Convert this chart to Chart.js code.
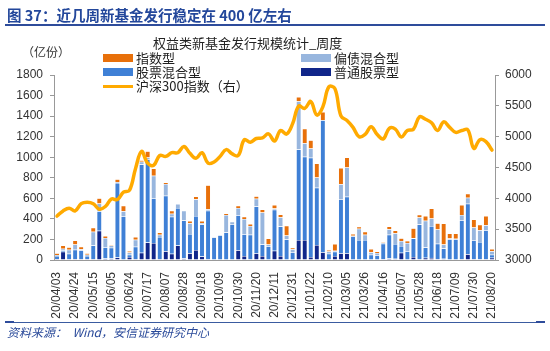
<!DOCTYPE html>
<html>
<head>
<meta charset="utf-8">
<script src="https://cdn.jsdelivr.net/npm/chart.js@4.4.0/dist/chart.umd.min.js"></script>
<style>
  html, body { margin: 0; padding: 0; background: #fff; }
  #wrap { position: relative; width: 550px; height: 351px; overflow: hidden;
          font-family: "Noto Sans CJK SC", "Liberation Sans", sans-serif; }
  #chart { position: absolute; left: 0; top: 0; }
  .abs { position: absolute; white-space: nowrap; line-height: 1; }
  .head { left: 7px; top: 8px; font-size: 14.5px; font-weight: bold; color: #23479b; }
  .rule { left: 5px; width: 540px; background: #2e4c9b; }
  .title { left: 153px; top: 36px; font-size: 13px; color: #222; }
  .unit { left: 22px; top: 46px; font-size: 12px; color: #333; }
  .leg { font-size: 13px; color: #222; height: 14px; }
  .sw { display: inline-block; width: 30px; height: 8px; vertical-align: middle; margin-right: 3px; margin-top: -2px; }
  .ln { display: inline-block; width: 30px; height: 3px; vertical-align: middle; margin-right: 3px; margin-top: -2px; background: #ffaa00; }
  .src { left: 7px; top: 326px; font-size: 12px; font-style: italic; color: #2a4a9a; }
</style>
</head>
<body>
<div id="wrap">
  <canvas id="chart" width="550" height="351"></canvas>
  <div class="abs head">图 37：近几周新基金发行稳定在 400 亿左右</div>
  <div class="abs rule" style="top:24px;height:1.5px;"></div>
  <div class="abs title">权益类新基金发行规模统计_周度</div>
  <div class="abs unit">（亿份）</div>
  <div class="abs leg" style="left:103px;top:51px;"><span class="sw" style="background:#e8700a"></span>指数型</div>
  <div class="abs leg" style="left:301px;top:51px;"><span class="sw" style="background:#98b6de"></span>偏债混合型</div>
  <div class="abs leg" style="left:103px;top:65px;"><span class="sw" style="background:#3f80d6"></span>股票混合型</div>
  <div class="abs leg" style="left:301px;top:65px;"><span class="sw" style="background:#10268a"></span>普通股票型</div>
  <div class="abs leg" style="left:103px;top:79px;"><span class="ln"></span>沪深300指数（右）</div>
  <div class="abs rule" style="top:322px;height:1px;background:#3a5ba0;"></div>
  <div class="abs" style="left:5px;top:321px;width:9px;height:2px;background:#2e4c9b;"></div>
  <div class="abs" style="left:536px;top:321px;width:9px;height:2px;background:#2e4c9b;"></div>
  <div class="abs src">资料来源：&nbsp;&nbsp;Wind，安信证券研究中心</div>
</div>
<script>
// weekly issue dates
const weeks = [
  '20/04/03','20/04/10','20/04/17','20/04/24','20/04/30','20/05/08','20/05/15','20/05/22','20/05/29','20/06/05',
  '20/06/12','20/06/19','20/06/24','20/07/03','20/07/10','20/07/17','20/07/24','20/07/31','20/08/07','20/08/14',
  '20/08/21','20/08/28','20/09/04','20/09/11','20/09/18','20/09/25','20/09/30','20/10/09','20/10/16','20/10/23',
  '20/10/30','20/11/06','20/11/13','20/11/20','20/11/27','20/12/04','20/12/11','20/12/18','20/12/25','20/12/31',
  '21/01/08','21/01/15','21/01/22','21/01/29','21/02/05','21/02/10','21/02/19','21/02/26','21/03/05','21/03/12',
  '21/03/19','21/03/26','21/04/02','21/04/09','21/04/16','21/04/23','21/04/30','21/05/07','21/05/14','21/05/21',
  '21/05/28','21/06/04','21/06/11','21/06/18','21/06/25','21/07/02','21/07/09','21/07/16','21/07/23','21/07/30',
  '21/08/06','21/08/13','21/08/20'
];

// 普通股票型 (亿份)
const commonStock = [
  10, 80, 10, 10, 10, 10, 10, 285, 15, 15,
  25, 5, 30, 10, 70, 170, 165, 10, 85, 60,
  140, 15, 65, 97, 35, 10, 5, 5, 5, 5,
  95, 40, 10, 65, 40, 5, 90, 40, 5, 5,
  195, 195, 30, 145, 75, 10, 40, 65, 65, 5,
  5, 5, 5, 5, 8, 15, 11, 70, 6, 30,
  10, 22, 20, 9, 11, 5, 5, 10, 57, 10,
  8, 10, 22
];
// 股票混合型
const stockMixed = [
  28, 15, 50, 90, 85, 30, 130, 190, 110, 105,
  725, 420, 20, 120, 860, 810, 435, 215, 540, 360,
  365, 370, 188, 330, 310, 470, 215, 235, 263, 342,
  340, 210, 235, 455, 110, 130, 400, 285, 195, 70,
  880, 810, 965, 557, 1285, 52, 40, 525, 550, 225,
  190, 190, 45, 42, 150, 230, 145, 66, 80, 180,
  336, 100, 310, 150, 100, 198, 196, 376, 490, 182,
  168, 280, 30
];
// 偏债混合型
const bondMixed = [
  10, 15, 40, 50, 10, 12, 134, 75, 88, 20,
  6, 50, 22, 68, 25, 18, 220, 20, 115, 30,
  39, 94, 105, 165, 15, 13, 6, 3, 170, 25,
  72, 150, 85, 75, 312, 15, 12, 90, 38, 30,
  470, 130, 90, 100, 0, 20, 10, 146, 285, 5,
  110, 50, 26, 20, 12, 55, 105, 50, 80, 5,
  68, 260, 75, 137, 39, 5, 5, 52, 59, 124,
  114, 49, 33
];
// 指数型
const indexFund = [
  17, 30, 23, 40, 25, 13, 40, 50, 20, 12,
  30, 52, 15, 25, 15, 60, 70, 23, 14, 29,
  0, 0, 22, 26, 20, 235, 0, 0, 15, 0,
  20, 20, 20, 26, 30, 60, 32, 28, 95, 15,
  41, 143, 80, 136, 80, 15, 65, 160, 97, 17,
  19, 30, 32, 15, 10, 26, 26, 26, 20, 95,
  26, 45, 95, 62, 205, 50, 52, 98, 39, 78,
  52, 88, 23
];
// 沪深300指数 weekly close (right axis)
const csi300 = [
  3713, 3796, 3839, 3797, 3913, 3937, 3913, 3824, 3867, 3990,
  3980, 4100, 4130, 4485, 4760, 4570, 4535, 4695, 4680, 4740,
  4740, 4840, 4730, 4650, 4740, 4570, 4590, 4680, 4790, 4720,
  4695, 4950, 4910, 4970, 4980, 5046, 4930, 5100, 5042, 5211,
  5496, 5458, 5570, 5351, 5484, 5808, 5778, 5336, 5262, 5150,
  5000, 5037, 5161, 5035, 4965, 5135, 5123, 4996, 5100, 5120,
  5321, 5282, 5225, 5100, 5240, 5150, 5070, 5100, 5110, 4811,
  4950, 4920, 4782
];

const leftRange = [0, 1800, 200];
const rightRange = [3000, 6000, 500];

const tickFont = { family: 'Liberation Sans, Arial, sans-serif', size: 12 };
const tickColor = '#333';
const axisColor = '#999';

function barSet(label, data, color) {
  return {
    type: 'bar', label: label, data: data, backgroundColor: color,
    borderColor: 'rgba(255,255,255,0.7)', borderWidth: 0.5,
    yAxisID: 'y', order: 1, categoryPercentage: 0.82, barPercentage: 1
  };
}

new Chart(document.getElementById('chart').getContext('2d'), {
  data: {
    labels: weeks,
    datasets: [
      {
        type: 'line', label: '沪深300指数（右）', data: csi300, yAxisID: 'y1', order: 0,
        borderColor: '#ffaa00', borderWidth: 3.5, pointRadius: 0, tension: 0.4,
        borderCapStyle: 'round', borderJoinStyle: 'round', fill: false
      },
      barSet('普通股票型', commonStock, '#10268a'),
      barSet('股票混合型', stockMixed, '#3f80d6'),
      barSet('偏债混合型', bondMixed, '#98b6de'),
      barSet('指数型', indexFund, '#e8700a')
    ]
  },
  options: {
    responsive: false,
    animation: false,
    devicePixelRatio: 1,
    layout: { padding: { top: 75, left: 0, right: 0, bottom: 0 } },
    plugins: { legend: { display: false }, tooltip: { enabled: false } },
    scales: {
      x: {
        stacked: true,
        grid: { display: false },
        border: { display: true, color: axisColor },
        ticks: {
          autoSkip: false, minRotation: 90, maxRotation: 90, padding: 4,
          font: tickFont, color: tickColor,
          callback: function (v, i) { return i % 3 === 0 ? weeks[i] : ''; }
        },
        afterFit: function (s) { s.height = 91; }
      },
      y: {
        stacked: true, position: 'left',
        min: leftRange[0], max: leftRange[1],
        grid: { display: true, drawOnChartArea: false, tickLength: 4, color: axisColor },
        border: { display: true, color: axisColor },
        ticks: { stepSize: leftRange[2], padding: 7, font: tickFont, color: tickColor,
                 callback: function (v) { return String(v); } },
        afterFit: function (s) { s.width = 54; }
      },
      y1: {
        stacked: false, position: 'right',
        min: rightRange[0], max: rightRange[1],
        grid: { display: true, drawOnChartArea: false, tickLength: 4, color: axisColor },
        border: { display: true, color: axisColor },
        ticks: { stepSize: rightRange[2], padding: 6, font: tickFont, color: tickColor,
                 callback: function (v) { return String(v); } },
        afterFit: function (s) { s.width = 55; }
      }
    }
  }
});
</script>
</body>
</html>
